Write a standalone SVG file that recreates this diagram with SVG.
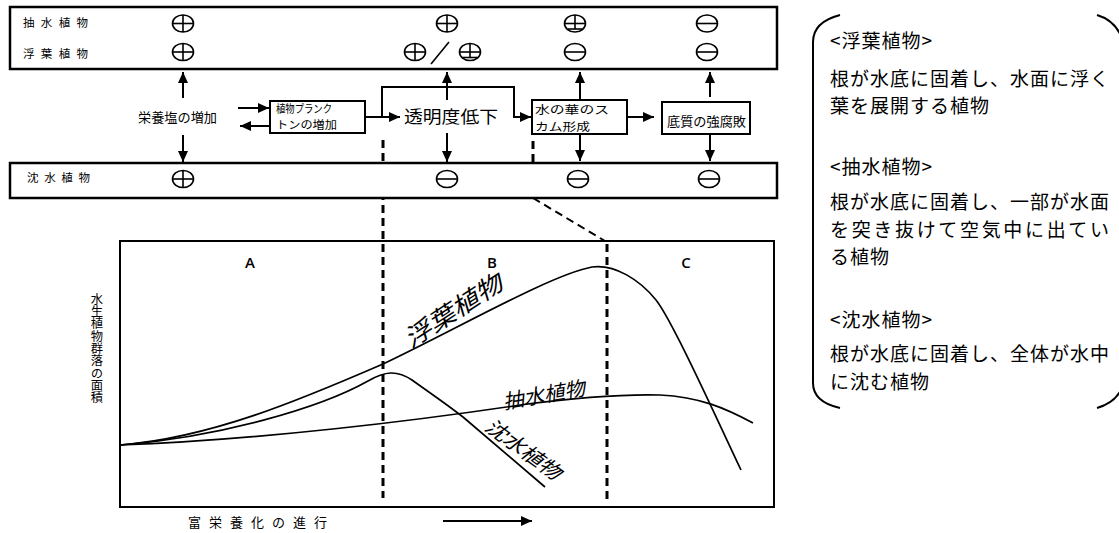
<svg xmlns="http://www.w3.org/2000/svg" xmlns:xlink="http://www.w3.org/1999/xlink" width="1119" height="533" viewBox="0 0 1119 533">
  <style>
    .jp { font-family: "Noto Sans CJK JP", "Noto Sans", sans-serif; fill: #000; }
    .band { fill: #fff; stroke: #000; stroke-width: 2.5; }
    .box { fill: #fff; stroke: #000; stroke-width: 2; }
    .frame { fill: none; stroke: #000; stroke-width: 2; }
    .sym { fill: none; stroke: #000; stroke-width: 1.6; }
    .conn { fill: none; stroke: #000; stroke-width: 2; }
    .dash { fill: none; stroke: #000; stroke-width: 3; stroke-dasharray: 8 5; }
    .dash-thin { fill: none; stroke: #000; stroke-width: 2; stroke-dasharray: 8 5; }
    .curve { fill: none; stroke: #000; stroke-width: 1.7; }
    .zone { font-family: "Open Sans", "Liberation Sans", sans-serif; font-size: 15px; font-weight: 600; text-anchor: middle; }
    .curve-label { font-family: "Noto Sans CJK JP", sans-serif; font-style: italic; text-anchor: middle; fill: #000; }
    .legend { font-family: "Noto Sans CJK JP", sans-serif; font-size: 19px; letter-spacing: 1px; fill: #000; }
    .vertical { writing-mode: vertical-rl; text-orientation: upright; }
  </style>
  <defs>
    <marker id="arrow" markerUnits="userSpaceOnUse" markerWidth="11" markerHeight="10" refX="11" refY="5" orient="auto">
      <path d="M0,0 L11,5 L0,10 z" fill="#000"/>
    </marker>
    <!-- circled plus -->
    <g id="plus" class="sym">
      <ellipse cx="0" cy="0" rx="10.5" ry="8.5"/>
      <line x1="-10.5" y1="0" x2="10.5" y2="0"/>
      <line x1="0" y1="-8.5" x2="0" y2="8.5"/>
    </g>
    <!-- circled minus -->
    <g id="minus" class="sym">
      <ellipse cx="0" cy="0" rx="10.5" ry="8.5"/>
      <line x1="-10.5" y1="0" x2="10.5" y2="0"/>
    </g>
    <!-- circled 土 (plus/minus) -->
    <g id="earth" class="sym">
      <ellipse cx="0" cy="0" rx="10.5" ry="8.5"/>
      <line x1="-10.5" y1="0" x2="10.5" y2="0"/>
      <line x1="0" y1="-8.5" x2="0" y2="5.5"/>
      <line x1="-7.5" y1="5.5" x2="7.5" y2="5.5"/>
    </g>
  </defs>

  <rect width="1119" height="533" fill="#fff"/>

  <!-- zone boundary guides (drawn under the bands) -->
  <g id="guides">
    <line class="dash" x1="383" y1="140" x2="383" y2="498"/>
    <line class="dash" x1="533" y1="141" x2="533" y2="163"/>
    <line class="dash-thin" x1="533" y1="198" x2="605" y2="241"/>
    <line class="dash" x1="607" y1="244" x2="607" y2="503"/>
  </g>

  <!-- floating-leaved / emergent band -->
  <g id="surface-band">
    <rect class="band" x="10" y="7" width="767" height="62"/>
    <text class="jp" x="23" y="27" font-size="11.5" textLength="65" lengthAdjust="spacing">抽 水 植 物</text>
    <text class="jp" x="23" y="58" font-size="11.5" textLength="65" lengthAdjust="spacing">浮 葉 植 物</text>
    <use xlink:href="#plus" x="183" y="23.5"/>
    <use xlink:href="#plus" x="183" y="52"/>
    <use xlink:href="#plus" x="447" y="23.5"/>
    <use xlink:href="#plus" x="415" y="52"/>
    <line class="sym" x1="431" y1="64" x2="449" y2="42"/>
    <use xlink:href="#earth" x="470" y="52"/>
    <use xlink:href="#earth" x="575" y="23.5"/>
    <use xlink:href="#minus" x="575" y="52"/>
    <use xlink:href="#minus" x="707" y="23.5"/>
    <use xlink:href="#minus" x="707" y="52"/>
  </g>

  <!-- submerged band -->
  <g id="submerged-band">
    <rect class="band" x="10" y="163" width="767" height="35"/>
    <text class="jp" x="27" y="182" font-size="11.5" textLength="63" lengthAdjust="spacing">沈 水 植 物</text>
    <use xlink:href="#plus" x="183" y="179"/>
    <use xlink:href="#minus" x="447" y="179"/>
    <use xlink:href="#minus" x="578" y="179"/>
    <use xlink:href="#minus" x="709" y="179"/>
  </g>

  <!-- process nodes -->
  <g id="nutrients">
    <text class="jp" x="138" y="122" font-size="13" textLength="79" lengthAdjust="spacingAndGlyphs">栄養塩の増加</text>
  </g>
  <g id="plankton">
    <rect class="box" x="270" y="101" width="95" height="32"/>
    <text class="jp" x="276" y="113" font-size="11" textLength="56" lengthAdjust="spacingAndGlyphs">植物プランク</text>
    <text class="jp" x="276" y="129" font-size="11" textLength="61" lengthAdjust="spacingAndGlyphs">トンの増加</text>
  </g>
  <g id="transparency">
    <text class="jp" x="404" y="123" font-size="17" textLength="94" lengthAdjust="spacingAndGlyphs">透明度低下</text>
  </g>
  <g id="bloom">
    <rect class="box" x="532" y="100" width="95" height="34"/>
    <text class="jp" x="535" y="114" font-size="11.5" textLength="74" lengthAdjust="spacingAndGlyphs">水の華のス</text>
    <text class="jp" x="535" y="131" font-size="11.5" textLength="55" lengthAdjust="spacingAndGlyphs">カム形成</text>
  </g>
  <g id="sediment">
    <rect class="box" x="662" y="102" width="88" height="32"/>
    <text class="jp" x="667" y="126" font-size="13" textLength="79" lengthAdjust="spacingAndGlyphs">底質の強腐敗</text>
  </g>

  <!-- connectors -->
  <g id="connectors" class="conn">
    <line x1="183" y1="98" x2="183" y2="72" marker-end="url(#arrow)"/>
    <line x1="183" y1="135" x2="183" y2="162" marker-end="url(#arrow)"/>
    <line x1="238" y1="108" x2="269" y2="108" marker-end="url(#arrow)"/>
    <line x1="269" y1="126" x2="240" y2="126" marker-end="url(#arrow)"/>
    <line x1="365" y1="117" x2="400" y2="117" marker-end="url(#arrow)"/>
    <path d="M382,117 V87 H514 V117 H531" marker-end="url(#arrow)"/>
    <line x1="447" y1="100" x2="447" y2="72" marker-end="url(#arrow)"/>
    <line x1="447" y1="133" x2="447" y2="162" marker-end="url(#arrow)"/>
    <line x1="580" y1="100" x2="580" y2="72" marker-end="url(#arrow)"/>
    <line x1="580" y1="134" x2="580" y2="161" marker-end="url(#arrow)"/>
    <line x1="627" y1="117" x2="654" y2="117" marker-end="url(#arrow)"/>
    <line x1="710" y1="97" x2="710" y2="72" marker-end="url(#arrow)"/>
    <line x1="710" y1="134" x2="710" y2="161" marker-end="url(#arrow)"/>
  </g>

  <!-- community area chart -->
  <g id="chart">
    <rect class="frame" x="120" y="241" width="654" height="266"/>
    <text class="zone" x="250" y="268">A</text>
    <text class="zone" x="492" y="268">B</text>
    <text class="zone" x="686" y="268">C</text>
    <text class="jp vertical" x="97" y="293" font-size="12.3">水生植物群落の面積</text>
    <text class="jp" x="188" y="527" font-size="13" textLength="139" lengthAdjust="spacing">富 栄 養 化 の 進 行</text>
    <line class="conn" x1="443" y1="521" x2="532" y2="521" marker-end="url(#arrow)"/>

    <!-- floating-leaved plants -->
    <path class="curve" d="M120,445 C210,438 300,400 383,364 C455,330 550,275 592,267 C615,264 640,280 656,300 C672,320 715,415 741,470"/>
    <!-- submerged plants -->
    <path class="curve" d="M120,445 C220,437 320,408 368,381 C385,371 397,370 412,380 C430,393 445,403 463,417 L545,487"/>
    <!-- emergent plants -->
    <path class="curve" d="M120,445 C260,440 420,420 520,405 C580,397 620,394 660,395 C700,397 725,408 753,423"/>

    <text class="curve-label" font-size="24" textLength="112" lengthAdjust="spacingAndGlyphs" transform="translate(458,318) rotate(-33)">浮葉植物</text>
    <text class="curve-label" font-size="20" textLength="83" lengthAdjust="spacingAndGlyphs" transform="translate(545,402) rotate(-10)">抽水植物</text>
    <text class="curve-label" font-size="20" textLength="88" lengthAdjust="spacingAndGlyphs" transform="translate(519,455) rotate(36)">沈水植物</text>
  </g>

  <!-- definitions panel -->
  <g id="legend">
    <path class="conn" d="M840,15 Q813,22 813,42 V383 Q813,402 840,408"/>
    <path class="conn" d="M1097,15 Q1114,20 1121,36"/>
    <path class="conn" d="M1097,408 Q1114,403 1121,390"/>
    <text class="legend" x="830" y="48">&lt;浮葉植物&gt;</text>
    <text class="legend" x="830" y="86">根が水底に固着し、水面に浮く</text>
    <text class="legend" x="830" y="113">葉を展開する植物</text>
    <text class="legend" x="830" y="174">&lt;抽水植物&gt;</text>
    <text class="legend" x="830" y="209">根が水底に固着し、一部が水面</text>
    <text class="legend" x="830" y="237" textLength="280" lengthAdjust="spacing">を突き抜けて空気中に出てい</text>
    <text class="legend" x="830" y="264">る植物</text>
    <text class="legend" x="830" y="327">&lt;沈水植物&gt;</text>
    <text class="legend" x="830" y="361">根が水底に固着し、全体が水中</text>
    <text class="legend" x="830" y="389">に沈む植物</text>
  </g>
</svg>
